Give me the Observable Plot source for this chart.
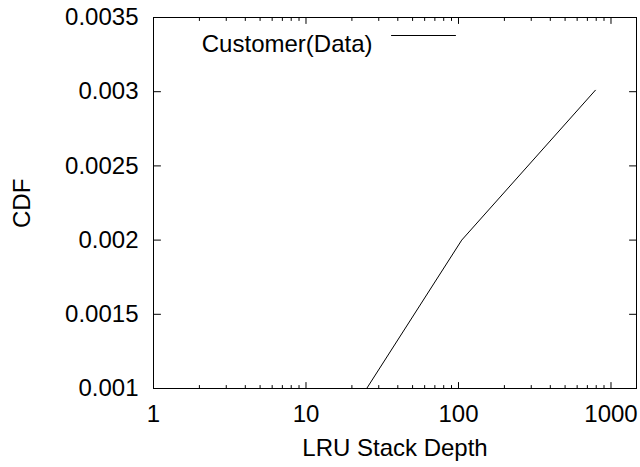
<!DOCTYPE html>
<html>
<head>
<meta charset="utf-8">
<script src="https://cdn.jsdelivr.net/npm/d3@7"></script>
<script src="https://cdn.jsdelivr.net/npm/@observablehq/plot@0.6"></script>
<style>
  html, body { margin: 0; padding: 0; background: #fff; }
  #chart svg { display: block; }
</style>
</head>
<body>
<div id="chart"></div>
<script>
// LRU stack depth vs. CDF for the customer data trace
const seriesName = "Customer(Data)";
const depth = [25, 105, 790];
const cdf = [0.001, 0.002, 0.00301];

// Axis ticks and labels
const xTicks = [1, 10, 100, 1000];
const xTickLabels = ["1", "10", "100", "1000"];
const xMinorTicks = [2, 3, 4, 5, 6, 7, 8, 9, 20, 30, 40, 50, 60, 70, 80, 90, 200, 300, 400, 500, 600, 700, 800, 900];
const yTicks = [0.001, 0.0015, 0.002, 0.0025, 0.003, 0.0035];
const yTickLabels = ["0.001", "0.0015", "0.002", "0.0025", "0.003", "0.0035"];

const data = depth.map((d, i) => ({depth: d, cdf: cdf[i]}));
const font = "Liberation Sans, Arial, Helvetica, sans-serif";
const fs = 24;

// plain line segment used for inward tick marks and the key sample
const segment = {draw(context, l) { context.moveTo(0, 0); context.lineTo(0, -l); }};
const inward = (values, channel, frameAnchor, rotate, length) =>
  Plot.vector(values, {[channel]: d => d, frameAnchor, rotate, length, anchor: "start", shape: segment, stroke: "#000", strokeWidth: 1});

const chart = Plot.plot({
  width: 640,
  height: 467,
  marginLeft: 153,
  marginRight: 4,
  marginTop: 17,
  marginBottom: 79,
  style: {fontFamily: font, fontSize: fs + "px", background: "#fff", color: "#000"},
  x: {type: "log", domain: [1, 1470], axis: null},
  y: {domain: [0.001, 0.0035], axis: null},
  marks: [
    Plot.frame({stroke: "#000", strokeWidth: 1}),
    // major and minor ticks, drawn inward on all four sides
    inward(xTicks, "x", "bottom", 0, 6),
    inward(xMinorTicks, "x", "bottom", 0, 3),
    inward(xTicks, "x", "top", 180, 6),
    inward(xMinorTicks, "x", "top", 180, 3),
    inward(yTicks, "y", "left", 90, 7),
    inward(yTicks, "y", "right", -90, 7),
    // tick labels
    Plot.text(xTicks, {x: d => d, text: (d, i) => xTickLabels[i], frameAnchor: "bottom", lineAnchor: "top", dy: 16, fontSize: fs, fill: "#000"}),
    Plot.text(yTicks, {y: d => d, text: (d, i) => yTickLabels[i], frameAnchor: "left", textAnchor: "end", dx: -15, fontSize: fs, fill: "#000"}),
    // axis titles
    Plot.text(["LRU Stack Depth"], {frameAnchor: "bottom", lineAnchor: "top", dy: 50, fontSize: fs, fill: "#000"}),
    Plot.text(["CDF"], {frameAnchor: "left", dx: -131, dy: 25, rotate: -90, fontSize: fs, fill: "#000"}),
    // key
    Plot.text([seriesName], {frameAnchor: "top-right", dx: -264, dy: 17, fontSize: fs, textAnchor: "end", fill: "#000"}),
    Plot.vector([0], {frameAnchor: "top-left", dx: 238, dy: 18, rotate: 90, length: 64, anchor: "start", shape: segment, stroke: "#000", strokeWidth: 1}),
    Plot.line(data, {x: "depth", y: "cdf", stroke: "#000", strokeWidth: 1, clip: true})
  ]
});

document.getElementById("chart").appendChild(chart);
</script>
</body>
</html>
